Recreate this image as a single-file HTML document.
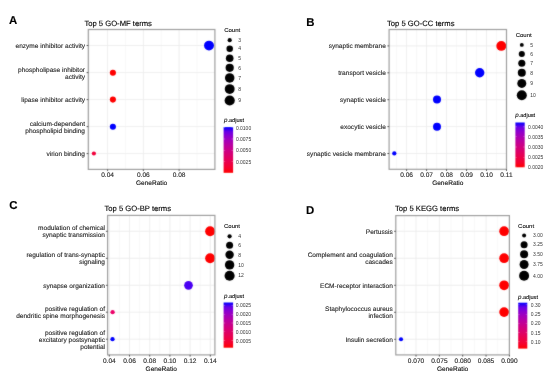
<!DOCTYPE html>
<html><head><meta charset="utf-8"><style>
html,body{margin:0;padding:0;background:#fff;}
body{width:550px;height:379px;overflow:hidden;}
svg{display:block;will-change:transform;}
text{font-family:"Liberation Sans", sans-serif;stroke-width:0.12px;paint-order:stroke;}
</style></head><body>
<svg width="550" height="379" viewBox="0 0 550 379">
<defs><linearGradient id="gA" x1="0" y1="0" x2="0" y2="1"><stop offset="0.00" stop-color="#0000FF"/><stop offset="0.10" stop-color="#6800E7"/><stop offset="0.20" stop-color="#8D00CE"/><stop offset="0.30" stop-color="#A600B7"/><stop offset="0.40" stop-color="#BA009F"/><stop offset="0.50" stop-color="#CA0088"/><stop offset="0.60" stop-color="#D70072"/><stop offset="0.70" stop-color="#E3005B"/><stop offset="0.80" stop-color="#ED0044"/><stop offset="0.90" stop-color="#F6002A"/><stop offset="1.00" stop-color="#FF0000"/></linearGradient><linearGradient id="gB" x1="0" y1="0" x2="0" y2="1"><stop offset="0.00" stop-color="#0000FF"/><stop offset="0.10" stop-color="#6800E7"/><stop offset="0.20" stop-color="#8D00CE"/><stop offset="0.30" stop-color="#A600B7"/><stop offset="0.40" stop-color="#BA009F"/><stop offset="0.50" stop-color="#CA0088"/><stop offset="0.60" stop-color="#D70072"/><stop offset="0.70" stop-color="#E3005B"/><stop offset="0.80" stop-color="#ED0044"/><stop offset="0.90" stop-color="#F6002A"/><stop offset="1.00" stop-color="#FF0000"/></linearGradient><linearGradient id="gC" x1="0" y1="0" x2="0" y2="1"><stop offset="0.00" stop-color="#0000FF"/><stop offset="0.10" stop-color="#6800E7"/><stop offset="0.20" stop-color="#8D00CE"/><stop offset="0.30" stop-color="#A600B7"/><stop offset="0.40" stop-color="#BA009F"/><stop offset="0.50" stop-color="#CA0088"/><stop offset="0.60" stop-color="#D70072"/><stop offset="0.70" stop-color="#E3005B"/><stop offset="0.80" stop-color="#ED0044"/><stop offset="0.90" stop-color="#F6002A"/><stop offset="1.00" stop-color="#FF0000"/></linearGradient><linearGradient id="gD" x1="0" y1="0" x2="0" y2="1"><stop offset="0.00" stop-color="#0000FF"/><stop offset="0.10" stop-color="#6800E7"/><stop offset="0.20" stop-color="#8D00CE"/><stop offset="0.30" stop-color="#A600B7"/><stop offset="0.40" stop-color="#BA009F"/><stop offset="0.50" stop-color="#CA0088"/><stop offset="0.60" stop-color="#D70072"/><stop offset="0.70" stop-color="#E3005B"/><stop offset="0.80" stop-color="#ED0044"/><stop offset="0.90" stop-color="#F6002A"/><stop offset="1.00" stop-color="#FF0000"/></linearGradient><filter id="soft" x="0" y="0" width="550" height="379" filterUnits="userSpaceOnUse" color-interpolation-filters="sRGB"><feConvolveMatrix order="3" kernelMatrix="1 2 1 2 24 2 1 2 1" edgeMode="duplicate"/></filter></defs>
<rect width="550" height="379" fill="#fff"/>
<g filter="url(#soft)">
<rect width="550" height="379" fill="#fff"/>
<rect x="88.3" y="29.5" width="126.6" height="139.9" fill="#fff"/>
<line x1="89.72" y1="29.5" x2="89.72" y2="169.4" stroke="#F4F4F4" stroke-width="0.6"/>
<line x1="125.47" y1="29.5" x2="125.47" y2="169.4" stroke="#F4F4F4" stroke-width="0.6"/>
<line x1="161.22" y1="29.5" x2="161.22" y2="169.4" stroke="#F4F4F4" stroke-width="0.6"/>
<line x1="196.97" y1="29.5" x2="196.97" y2="169.4" stroke="#F4F4F4" stroke-width="0.6"/>
<line x1="107.60" y1="29.5" x2="107.60" y2="169.4" stroke="#EBEBEB" stroke-width="0.8"/>
<line x1="143.35" y1="29.5" x2="143.35" y2="169.4" stroke="#EBEBEB" stroke-width="0.8"/>
<line x1="179.10" y1="29.5" x2="179.10" y2="169.4" stroke="#EBEBEB" stroke-width="0.8"/>
<line x1="88.3" y1="45.50" x2="214.9" y2="45.50" stroke="#EBEBEB" stroke-width="0.8"/>
<line x1="88.3" y1="72.60" x2="214.9" y2="72.60" stroke="#EBEBEB" stroke-width="0.8"/>
<line x1="88.3" y1="99.60" x2="214.9" y2="99.60" stroke="#EBEBEB" stroke-width="0.8"/>
<line x1="88.3" y1="126.60" x2="214.9" y2="126.60" stroke="#EBEBEB" stroke-width="0.8"/>
<line x1="88.3" y1="153.60" x2="214.9" y2="153.60" stroke="#EBEBEB" stroke-width="0.8"/>
<circle cx="209.0" cy="45.6" r="4.95" fill="#0000FF"/>
<circle cx="112.9" cy="72.7" r="3.05" fill="#FF0000"/>
<circle cx="112.9" cy="99.6" r="3.05" fill="#FF0000"/>
<circle cx="112.9" cy="126.7" r="3.05" fill="#0000FF"/>
<circle cx="93.9" cy="153.5" r="2.10" fill="#F2003A"/>
<rect x="88.3" y="29.5" width="126.6" height="139.9" fill="none" stroke="#A0A0A0" stroke-width="1.2"/>
<line x1="86.6" y1="45.50" x2="88.3" y2="45.50" stroke="#333" stroke-width="0.8"/>
<line x1="86.6" y1="72.60" x2="88.3" y2="72.60" stroke="#333" stroke-width="0.8"/>
<line x1="86.6" y1="99.60" x2="88.3" y2="99.60" stroke="#333" stroke-width="0.8"/>
<line x1="86.6" y1="126.60" x2="88.3" y2="126.60" stroke="#333" stroke-width="0.8"/>
<line x1="86.6" y1="153.60" x2="88.3" y2="153.60" stroke="#333" stroke-width="0.8"/>
<line x1="107.60" y1="169.4" x2="107.60" y2="171.1" stroke="#333" stroke-width="0.8"/>
<line x1="143.35" y1="169.4" x2="143.35" y2="171.1" stroke="#333" stroke-width="0.8"/>
<line x1="179.10" y1="169.4" x2="179.10" y2="171.1" stroke="#333" stroke-width="0.8"/>
<circle cx="229.7" cy="40.2" r="2.10" fill="#000"/>
<circle cx="229.7" cy="48.7" r="3.25" fill="#000"/>
<circle cx="229.7" cy="58.2" r="3.80" fill="#000"/>
<circle cx="229.7" cy="67.8" r="4.10" fill="#000"/>
<circle cx="229.7" cy="77.9" r="4.75" fill="#000"/>
<circle cx="229.7" cy="89.1" r="4.95" fill="#000"/>
<circle cx="229.7" cy="100.5" r="5.10" fill="#000"/>
<rect x="223.60" y="127.10" width="9.50" height="45.70" fill="url(#gA)"/>
<line x1="223.60" y1="127.5" x2="225.20" y2="127.5" stroke="#fff" stroke-width="0.4" opacity="0.7"/>
<line x1="231.50" y1="127.5" x2="233.10" y2="127.5" stroke="#fff" stroke-width="0.4" opacity="0.7"/>
<line x1="223.60" y1="139.0" x2="225.20" y2="139.0" stroke="#fff" stroke-width="0.4" opacity="0.7"/>
<line x1="231.50" y1="139.0" x2="233.10" y2="139.0" stroke="#fff" stroke-width="0.4" opacity="0.7"/>
<line x1="223.60" y1="150.3" x2="225.20" y2="150.3" stroke="#fff" stroke-width="0.4" opacity="0.7"/>
<line x1="231.50" y1="150.3" x2="233.10" y2="150.3" stroke="#fff" stroke-width="0.4" opacity="0.7"/>
<line x1="223.60" y1="161.7" x2="225.20" y2="161.7" stroke="#fff" stroke-width="0.4" opacity="0.7"/>
<line x1="231.50" y1="161.7" x2="233.10" y2="161.7" stroke="#fff" stroke-width="0.4" opacity="0.7"/>
<rect x="389.1" y="29.5" width="117.4" height="139.8" fill="#fff"/>
<line x1="396.61" y1="29.5" x2="396.61" y2="169.3" stroke="#F4F4F4" stroke-width="0.6"/>
<line x1="416.59" y1="29.5" x2="416.59" y2="169.3" stroke="#F4F4F4" stroke-width="0.6"/>
<line x1="436.57" y1="29.5" x2="436.57" y2="169.3" stroke="#F4F4F4" stroke-width="0.6"/>
<line x1="456.55" y1="29.5" x2="456.55" y2="169.3" stroke="#F4F4F4" stroke-width="0.6"/>
<line x1="476.53" y1="29.5" x2="476.53" y2="169.3" stroke="#F4F4F4" stroke-width="0.6"/>
<line x1="496.51" y1="29.5" x2="496.51" y2="169.3" stroke="#F4F4F4" stroke-width="0.6"/>
<line x1="406.60" y1="29.5" x2="406.60" y2="169.3" stroke="#EBEBEB" stroke-width="0.8"/>
<line x1="426.58" y1="29.5" x2="426.58" y2="169.3" stroke="#EBEBEB" stroke-width="0.8"/>
<line x1="446.56" y1="29.5" x2="446.56" y2="169.3" stroke="#EBEBEB" stroke-width="0.8"/>
<line x1="466.54" y1="29.5" x2="466.54" y2="169.3" stroke="#EBEBEB" stroke-width="0.8"/>
<line x1="486.52" y1="29.5" x2="486.52" y2="169.3" stroke="#EBEBEB" stroke-width="0.8"/>
<line x1="506.50" y1="29.5" x2="506.50" y2="169.3" stroke="#EBEBEB" stroke-width="0.8"/>
<line x1="389.1" y1="45.90" x2="506.5" y2="45.90" stroke="#EBEBEB" stroke-width="0.8"/>
<line x1="389.1" y1="72.80" x2="506.5" y2="72.80" stroke="#EBEBEB" stroke-width="0.8"/>
<line x1="389.1" y1="99.70" x2="506.5" y2="99.70" stroke="#EBEBEB" stroke-width="0.8"/>
<line x1="389.1" y1="126.60" x2="506.5" y2="126.60" stroke="#EBEBEB" stroke-width="0.8"/>
<line x1="389.1" y1="153.50" x2="506.5" y2="153.50" stroke="#EBEBEB" stroke-width="0.8"/>
<circle cx="501.3" cy="45.9" r="4.95" fill="#FF0000"/>
<circle cx="479.7" cy="72.7" r="4.70" fill="#0000FF"/>
<circle cx="437.0" cy="99.6" r="4.00" fill="#0000FF"/>
<circle cx="437.0" cy="126.7" r="4.00" fill="#0000FF"/>
<circle cx="394.3" cy="153.4" r="2.15" fill="#0000FF"/>
<rect x="389.1" y="29.5" width="117.4" height="139.8" fill="none" stroke="#A0A0A0" stroke-width="1.2"/>
<line x1="387.4" y1="45.90" x2="389.1" y2="45.90" stroke="#333" stroke-width="0.8"/>
<line x1="387.4" y1="72.80" x2="389.1" y2="72.80" stroke="#333" stroke-width="0.8"/>
<line x1="387.4" y1="99.70" x2="389.1" y2="99.70" stroke="#333" stroke-width="0.8"/>
<line x1="387.4" y1="126.60" x2="389.1" y2="126.60" stroke="#333" stroke-width="0.8"/>
<line x1="387.4" y1="153.50" x2="389.1" y2="153.50" stroke="#333" stroke-width="0.8"/>
<line x1="406.60" y1="169.3" x2="406.60" y2="171.0" stroke="#333" stroke-width="0.8"/>
<line x1="426.58" y1="169.3" x2="426.58" y2="171.0" stroke="#333" stroke-width="0.8"/>
<line x1="446.56" y1="169.3" x2="446.56" y2="171.0" stroke="#333" stroke-width="0.8"/>
<line x1="466.54" y1="169.3" x2="466.54" y2="171.0" stroke="#333" stroke-width="0.8"/>
<line x1="486.52" y1="169.3" x2="486.52" y2="171.0" stroke="#333" stroke-width="0.8"/>
<line x1="506.50" y1="169.3" x2="506.50" y2="171.0" stroke="#333" stroke-width="0.8"/>
<circle cx="521.8" cy="44.9" r="1.95" fill="#000"/>
<circle cx="521.8" cy="54.0" r="3.05" fill="#000"/>
<circle cx="521.8" cy="63.2" r="3.55" fill="#000"/>
<circle cx="521.8" cy="72.8" r="4.00" fill="#000"/>
<circle cx="521.8" cy="83.4" r="4.50" fill="#000"/>
<circle cx="521.8" cy="95.2" r="5.00" fill="#000"/>
<rect x="515.40" y="122.50" width="9.30" height="44.80" fill="url(#gB)"/>
<line x1="515.40" y1="126.8" x2="517.00" y2="126.8" stroke="#fff" stroke-width="0.4" opacity="0.7"/>
<line x1="523.10" y1="126.8" x2="524.70" y2="126.8" stroke="#fff" stroke-width="0.4" opacity="0.7"/>
<line x1="515.40" y1="136.8" x2="517.00" y2="136.8" stroke="#fff" stroke-width="0.4" opacity="0.7"/>
<line x1="523.10" y1="136.8" x2="524.70" y2="136.8" stroke="#fff" stroke-width="0.4" opacity="0.7"/>
<line x1="515.40" y1="147.0" x2="517.00" y2="147.0" stroke="#fff" stroke-width="0.4" opacity="0.7"/>
<line x1="523.10" y1="147.0" x2="524.70" y2="147.0" stroke="#fff" stroke-width="0.4" opacity="0.7"/>
<line x1="515.40" y1="157.2" x2="517.00" y2="157.2" stroke="#fff" stroke-width="0.4" opacity="0.7"/>
<line x1="523.10" y1="157.2" x2="524.70" y2="157.2" stroke="#fff" stroke-width="0.4" opacity="0.7"/>
<line x1="515.40" y1="167.0" x2="517.00" y2="167.0" stroke="#fff" stroke-width="0.4" opacity="0.7"/>
<line x1="523.10" y1="167.0" x2="524.70" y2="167.0" stroke="#fff" stroke-width="0.4" opacity="0.7"/>
<rect x="107.6" y="215.4" width="107.3" height="139.5" fill="#fff"/>
<line x1="119.40" y1="215.4" x2="119.40" y2="354.9" stroke="#F4F4F4" stroke-width="0.6"/>
<line x1="139.60" y1="215.4" x2="139.60" y2="354.9" stroke="#F4F4F4" stroke-width="0.6"/>
<line x1="159.80" y1="215.4" x2="159.80" y2="354.9" stroke="#F4F4F4" stroke-width="0.6"/>
<line x1="180.00" y1="215.4" x2="180.00" y2="354.9" stroke="#F4F4F4" stroke-width="0.6"/>
<line x1="200.20" y1="215.4" x2="200.20" y2="354.9" stroke="#F4F4F4" stroke-width="0.6"/>
<line x1="109.30" y1="215.4" x2="109.30" y2="354.9" stroke="#EBEBEB" stroke-width="0.8"/>
<line x1="129.50" y1="215.4" x2="129.50" y2="354.9" stroke="#EBEBEB" stroke-width="0.8"/>
<line x1="149.70" y1="215.4" x2="149.70" y2="354.9" stroke="#EBEBEB" stroke-width="0.8"/>
<line x1="169.90" y1="215.4" x2="169.90" y2="354.9" stroke="#EBEBEB" stroke-width="0.8"/>
<line x1="190.10" y1="215.4" x2="190.10" y2="354.9" stroke="#EBEBEB" stroke-width="0.8"/>
<line x1="210.30" y1="215.4" x2="210.30" y2="354.9" stroke="#EBEBEB" stroke-width="0.8"/>
<line x1="107.6" y1="231.30" x2="214.9" y2="231.30" stroke="#EBEBEB" stroke-width="0.8"/>
<line x1="107.6" y1="258.30" x2="214.9" y2="258.30" stroke="#EBEBEB" stroke-width="0.8"/>
<line x1="107.6" y1="285.30" x2="214.9" y2="285.30" stroke="#EBEBEB" stroke-width="0.8"/>
<line x1="107.6" y1="312.20" x2="214.9" y2="312.20" stroke="#EBEBEB" stroke-width="0.8"/>
<line x1="107.6" y1="339.20" x2="214.9" y2="339.20" stroke="#EBEBEB" stroke-width="0.8"/>
<circle cx="210.1" cy="231.2" r="4.95" fill="#FF0000"/>
<circle cx="210.1" cy="258.2" r="4.95" fill="#FF0000"/>
<circle cx="188.5" cy="285.3" r="4.35" fill="#4A00F3"/>
<circle cx="112.6" cy="312.2" r="2.15" fill="#EC0068"/>
<circle cx="112.5" cy="339.2" r="2.15" fill="#0000FF"/>
<rect x="107.6" y="215.4" width="107.3" height="139.5" fill="none" stroke="#A0A0A0" stroke-width="1.2"/>
<line x1="105.9" y1="231.30" x2="107.6" y2="231.30" stroke="#333" stroke-width="0.8"/>
<line x1="105.9" y1="258.30" x2="107.6" y2="258.30" stroke="#333" stroke-width="0.8"/>
<line x1="105.9" y1="285.30" x2="107.6" y2="285.30" stroke="#333" stroke-width="0.8"/>
<line x1="105.9" y1="312.20" x2="107.6" y2="312.20" stroke="#333" stroke-width="0.8"/>
<line x1="105.9" y1="339.20" x2="107.6" y2="339.20" stroke="#333" stroke-width="0.8"/>
<line x1="109.30" y1="354.9" x2="109.30" y2="356.6" stroke="#333" stroke-width="0.8"/>
<line x1="129.50" y1="354.9" x2="129.50" y2="356.6" stroke="#333" stroke-width="0.8"/>
<line x1="149.70" y1="354.9" x2="149.70" y2="356.6" stroke="#333" stroke-width="0.8"/>
<line x1="169.90" y1="354.9" x2="169.90" y2="356.6" stroke="#333" stroke-width="0.8"/>
<line x1="190.10" y1="354.9" x2="190.10" y2="356.6" stroke="#333" stroke-width="0.8"/>
<line x1="210.30" y1="354.9" x2="210.30" y2="356.6" stroke="#333" stroke-width="0.8"/>
<circle cx="229.6" cy="236.3" r="2.10" fill="#000"/>
<circle cx="229.6" cy="245.3" r="3.50" fill="#000"/>
<circle cx="229.6" cy="254.8" r="4.20" fill="#000"/>
<circle cx="229.6" cy="264.9" r="4.70" fill="#000"/>
<circle cx="229.6" cy="275.7" r="5.05" fill="#000"/>
<rect x="223.60" y="302.50" width="9.50" height="45.20" fill="url(#gC)"/>
<line x1="223.60" y1="305.3" x2="225.20" y2="305.3" stroke="#fff" stroke-width="0.4" opacity="0.7"/>
<line x1="231.50" y1="305.3" x2="233.10" y2="305.3" stroke="#fff" stroke-width="0.4" opacity="0.7"/>
<line x1="223.60" y1="314.2" x2="225.20" y2="314.2" stroke="#fff" stroke-width="0.4" opacity="0.7"/>
<line x1="231.50" y1="314.2" x2="233.10" y2="314.2" stroke="#fff" stroke-width="0.4" opacity="0.7"/>
<line x1="223.60" y1="323.0" x2="225.20" y2="323.0" stroke="#fff" stroke-width="0.4" opacity="0.7"/>
<line x1="231.50" y1="323.0" x2="233.10" y2="323.0" stroke="#fff" stroke-width="0.4" opacity="0.7"/>
<line x1="223.60" y1="331.8" x2="225.20" y2="331.8" stroke="#fff" stroke-width="0.4" opacity="0.7"/>
<line x1="231.50" y1="331.8" x2="233.10" y2="331.8" stroke="#fff" stroke-width="0.4" opacity="0.7"/>
<line x1="223.60" y1="340.5" x2="225.20" y2="340.5" stroke="#fff" stroke-width="0.4" opacity="0.7"/>
<line x1="231.50" y1="340.5" x2="233.10" y2="340.5" stroke="#fff" stroke-width="0.4" opacity="0.7"/>
<rect x="395.8" y="215.6" width="113.6" height="139.3" fill="#fff"/>
<line x1="404.32" y1="215.6" x2="404.32" y2="354.9" stroke="#F4F4F4" stroke-width="0.6"/>
<line x1="427.67" y1="215.6" x2="427.67" y2="354.9" stroke="#F4F4F4" stroke-width="0.6"/>
<line x1="451.02" y1="215.6" x2="451.02" y2="354.9" stroke="#F4F4F4" stroke-width="0.6"/>
<line x1="474.38" y1="215.6" x2="474.38" y2="354.9" stroke="#F4F4F4" stroke-width="0.6"/>
<line x1="497.72" y1="215.6" x2="497.72" y2="354.9" stroke="#F4F4F4" stroke-width="0.6"/>
<line x1="416.00" y1="215.6" x2="416.00" y2="354.9" stroke="#EBEBEB" stroke-width="0.8"/>
<line x1="439.35" y1="215.6" x2="439.35" y2="354.9" stroke="#EBEBEB" stroke-width="0.8"/>
<line x1="462.70" y1="215.6" x2="462.70" y2="354.9" stroke="#EBEBEB" stroke-width="0.8"/>
<line x1="486.05" y1="215.6" x2="486.05" y2="354.9" stroke="#EBEBEB" stroke-width="0.8"/>
<line x1="509.40" y1="215.6" x2="509.40" y2="354.9" stroke="#EBEBEB" stroke-width="0.8"/>
<line x1="395.8" y1="231.30" x2="509.4" y2="231.30" stroke="#EBEBEB" stroke-width="0.8"/>
<line x1="395.8" y1="258.30" x2="509.4" y2="258.30" stroke="#EBEBEB" stroke-width="0.8"/>
<line x1="395.8" y1="285.30" x2="509.4" y2="285.30" stroke="#EBEBEB" stroke-width="0.8"/>
<line x1="395.8" y1="312.30" x2="509.4" y2="312.30" stroke="#EBEBEB" stroke-width="0.8"/>
<line x1="395.8" y1="339.30" x2="509.4" y2="339.30" stroke="#EBEBEB" stroke-width="0.8"/>
<circle cx="504.1" cy="231.2" r="4.85" fill="#FF0000"/>
<circle cx="504.1" cy="258.2" r="4.85" fill="#FF0000"/>
<circle cx="504.1" cy="285.3" r="4.85" fill="#FF0000"/>
<circle cx="504.1" cy="312.1" r="4.85" fill="#FF0000"/>
<circle cx="401.0" cy="339.3" r="2.05" fill="#0000FF"/>
<rect x="395.8" y="215.6" width="113.6" height="139.3" fill="none" stroke="#A0A0A0" stroke-width="1.2"/>
<line x1="394.1" y1="231.30" x2="395.8" y2="231.30" stroke="#333" stroke-width="0.8"/>
<line x1="394.1" y1="258.30" x2="395.8" y2="258.30" stroke="#333" stroke-width="0.8"/>
<line x1="394.1" y1="285.30" x2="395.8" y2="285.30" stroke="#333" stroke-width="0.8"/>
<line x1="394.1" y1="312.30" x2="395.8" y2="312.30" stroke="#333" stroke-width="0.8"/>
<line x1="394.1" y1="339.30" x2="395.8" y2="339.30" stroke="#333" stroke-width="0.8"/>
<line x1="416.00" y1="354.9" x2="416.00" y2="356.6" stroke="#333" stroke-width="0.8"/>
<line x1="439.35" y1="354.9" x2="439.35" y2="356.6" stroke="#333" stroke-width="0.8"/>
<line x1="462.70" y1="354.9" x2="462.70" y2="356.6" stroke="#333" stroke-width="0.8"/>
<line x1="486.05" y1="354.9" x2="486.05" y2="356.6" stroke="#333" stroke-width="0.8"/>
<line x1="509.40" y1="354.9" x2="509.40" y2="356.6" stroke="#333" stroke-width="0.8"/>
<circle cx="524.1" cy="235.4" r="2.00" fill="#000"/>
<circle cx="524.1" cy="244.7" r="3.50" fill="#000"/>
<circle cx="524.1" cy="254.2" r="4.00" fill="#000"/>
<circle cx="524.1" cy="264.5" r="4.50" fill="#000"/>
<circle cx="524.1" cy="275.8" r="5.00" fill="#000"/>
<rect x="518.20" y="302.70" width="9.10" height="45.90" fill="url(#gD)"/>
<line x1="518.20" y1="304.8" x2="519.80" y2="304.8" stroke="#fff" stroke-width="0.4" opacity="0.7"/>
<line x1="525.70" y1="304.8" x2="527.30" y2="304.8" stroke="#fff" stroke-width="0.4" opacity="0.7"/>
<line x1="518.20" y1="314.2" x2="519.80" y2="314.2" stroke="#fff" stroke-width="0.4" opacity="0.7"/>
<line x1="525.70" y1="314.2" x2="527.30" y2="314.2" stroke="#fff" stroke-width="0.4" opacity="0.7"/>
<line x1="518.20" y1="323.2" x2="519.80" y2="323.2" stroke="#fff" stroke-width="0.4" opacity="0.7"/>
<line x1="525.70" y1="323.2" x2="527.30" y2="323.2" stroke="#fff" stroke-width="0.4" opacity="0.7"/>
<line x1="518.20" y1="332.6" x2="519.80" y2="332.6" stroke="#fff" stroke-width="0.4" opacity="0.7"/>
<line x1="525.70" y1="332.6" x2="527.30" y2="332.6" stroke="#fff" stroke-width="0.4" opacity="0.7"/>
<line x1="518.20" y1="341.8" x2="519.80" y2="341.8" stroke="#fff" stroke-width="0.4" opacity="0.7"/>
<line x1="525.70" y1="341.8" x2="527.30" y2="341.8" stroke="#fff" stroke-width="0.4" opacity="0.7"/>
</g>
<g>
<text x="9.00" y="24.20" font-size="11.4" font-weight="bold" text-rendering="geometricPrecision" fill="#000" stroke="#000">A</text>
<text x="84.40" y="25.80" font-size="7.65" text-rendering="geometricPrecision" fill="#000" stroke="#000" stroke-width="0.06">Top 5 GO-MF terms</text>
<text x="85.00" y="48.05" font-size="6.55" text-anchor="end" text-rendering="geometricPrecision" fill="#262626" stroke="#262626">enzyme inhibitor activity</text>
<text x="85.00" y="71.55" font-size="6.55" text-anchor="end" text-rendering="geometricPrecision" fill="#262626" stroke="#262626">phospholipase inhibitor</text>
<text x="85.00" y="78.75" font-size="6.55" text-anchor="end" text-rendering="geometricPrecision" fill="#262626" stroke="#262626">activity</text>
<text x="85.00" y="102.15" font-size="6.55" text-anchor="end" text-rendering="geometricPrecision" fill="#262626" stroke="#262626">lipase inhibitor activity</text>
<text x="85.00" y="125.55" font-size="6.55" text-anchor="end" text-rendering="geometricPrecision" fill="#262626" stroke="#262626">calcium-dependent</text>
<text x="85.00" y="132.75" font-size="6.55" text-anchor="end" text-rendering="geometricPrecision" fill="#262626" stroke="#262626">phospholipid binding</text>
<text x="85.00" y="156.15" font-size="6.55" text-anchor="end" text-rendering="geometricPrecision" fill="#262626" stroke="#262626">virion binding</text>
<text x="107.60" y="177.00" font-size="6.55" text-anchor="middle" text-rendering="geometricPrecision" fill="#262626" stroke="#262626">0.04</text>
<text x="143.35" y="177.00" font-size="6.55" text-anchor="middle" text-rendering="geometricPrecision" fill="#262626" stroke="#262626">0.06</text>
<text x="179.10" y="177.00" font-size="6.55" text-anchor="middle" text-rendering="geometricPrecision" fill="#262626" stroke="#262626">0.08</text>
<text x="151.60" y="184.80" font-size="6.55" text-anchor="middle" text-rendering="geometricPrecision" fill="#111" stroke="#111" stroke-width="0.04">GeneRatio</text>
<text x="224.20" y="31.90" font-size="6.0" fill="#111" stroke="#111" stroke-width="0.03">Count</text>
<text x="238.30" y="41.99" font-size="5.0" fill="#383838">3</text>
<text x="238.30" y="50.49" font-size="5.0" fill="#383838">4</text>
<text x="238.30" y="59.99" font-size="5.0" fill="#383838">5</text>
<text x="238.30" y="69.59" font-size="5.0" fill="#383838">6</text>
<text x="238.30" y="79.69" font-size="5.0" fill="#383838">7</text>
<text x="238.30" y="90.89" font-size="5.0" fill="#383838">8</text>
<text x="238.30" y="102.29" font-size="5.0" fill="#383838">9</text>
<text x="224.00" y="122.30" font-size="5.6" text-rendering="geometricPrecision" fill="#111" stroke="#111" stroke-width="0.04"><tspan font-style="italic" font-size="6.2">p</tspan>.adjust</text>
<text x="235.90" y="129.69" font-size="5.0" fill="#383838">0.0100</text>
<text x="235.90" y="141.19" font-size="5.0" fill="#383838">0.0075</text>
<text x="235.90" y="152.49" font-size="5.0" fill="#383838">0.0050</text>
<text x="235.90" y="163.89" font-size="5.0" fill="#383838">0.0025</text>
<text x="306.20" y="25.80" font-size="11.4" font-weight="bold" text-rendering="geometricPrecision" fill="#000" stroke="#000">B</text>
<text x="387.00" y="25.60" font-size="7.65" text-rendering="geometricPrecision" fill="#000" stroke="#000" stroke-width="0.06">Top 5 GO-CC terms</text>
<text x="385.80" y="48.45" font-size="6.55" text-anchor="end" text-rendering="geometricPrecision" fill="#262626" stroke="#262626">synaptic membrane</text>
<text x="385.80" y="75.35" font-size="6.55" text-anchor="end" text-rendering="geometricPrecision" fill="#262626" stroke="#262626">transport vesicle</text>
<text x="385.80" y="102.25" font-size="6.55" text-anchor="end" text-rendering="geometricPrecision" fill="#262626" stroke="#262626">synaptic vesicle</text>
<text x="385.80" y="129.15" font-size="6.55" text-anchor="end" text-rendering="geometricPrecision" fill="#262626" stroke="#262626">exocytic vesicle</text>
<text x="385.80" y="156.05" font-size="6.55" text-anchor="end" text-rendering="geometricPrecision" fill="#262626" stroke="#262626">synaptic vesicle membrane</text>
<text x="406.60" y="177.00" font-size="6.55" text-anchor="middle" text-rendering="geometricPrecision" fill="#262626" stroke="#262626">0.06</text>
<text x="426.58" y="177.00" font-size="6.55" text-anchor="middle" text-rendering="geometricPrecision" fill="#262626" stroke="#262626">0.07</text>
<text x="446.56" y="177.00" font-size="6.55" text-anchor="middle" text-rendering="geometricPrecision" fill="#262626" stroke="#262626">0.08</text>
<text x="466.54" y="177.00" font-size="6.55" text-anchor="middle" text-rendering="geometricPrecision" fill="#262626" stroke="#262626">0.09</text>
<text x="486.52" y="177.00" font-size="6.55" text-anchor="middle" text-rendering="geometricPrecision" fill="#262626" stroke="#262626">0.10</text>
<text x="506.50" y="177.00" font-size="6.55" text-anchor="middle" text-rendering="geometricPrecision" fill="#262626" stroke="#262626">0.11</text>
<text x="447.80" y="184.70" font-size="6.55" text-anchor="middle" text-rendering="geometricPrecision" fill="#111" stroke="#111" stroke-width="0.04">GeneRatio</text>
<text x="515.70" y="36.90" font-size="6.0" fill="#111" stroke="#111" stroke-width="0.03">Count</text>
<text x="530.30" y="46.69" font-size="5.0" fill="#383838">5</text>
<text x="530.30" y="55.79" font-size="5.0" fill="#383838">6</text>
<text x="530.30" y="64.99" font-size="5.0" fill="#383838">7</text>
<text x="530.30" y="74.59" font-size="5.0" fill="#383838">8</text>
<text x="530.30" y="85.19" font-size="5.0" fill="#383838">9</text>
<text x="530.30" y="96.99" font-size="5.0" fill="#383838">10</text>
<text x="515.20" y="117.30" font-size="5.6" text-rendering="geometricPrecision" fill="#111" stroke="#111" stroke-width="0.04"><tspan font-style="italic" font-size="6.2">p</tspan>.adjust</text>
<text x="528.00" y="128.99" font-size="5.0" fill="#383838">0.0040</text>
<text x="528.00" y="138.99" font-size="5.0" fill="#383838">0.0035</text>
<text x="528.00" y="149.19" font-size="5.0" fill="#383838">0.0030</text>
<text x="528.00" y="159.39" font-size="5.0" fill="#383838">0.0025</text>
<text x="528.00" y="169.19" font-size="5.0" fill="#383838">0.0020</text>
<text x="9.30" y="209.40" font-size="11.4" font-weight="bold" text-rendering="geometricPrecision" fill="#000" stroke="#000">C</text>
<text x="104.50" y="211.40" font-size="7.65" text-rendering="geometricPrecision" fill="#000" stroke="#000" stroke-width="0.06">Top 5 GO-BP terms</text>
<text x="105.00" y="230.25" font-size="6.55" text-anchor="end" text-rendering="geometricPrecision" fill="#262626" stroke="#262626">modulation of chemical</text>
<text x="105.00" y="237.45" font-size="6.55" text-anchor="end" text-rendering="geometricPrecision" fill="#262626" stroke="#262626">synaptic transmission</text>
<text x="105.00" y="257.25" font-size="6.55" text-anchor="end" text-rendering="geometricPrecision" fill="#262626" stroke="#262626">regulation of trans-synaptic</text>
<text x="105.00" y="264.45" font-size="6.55" text-anchor="end" text-rendering="geometricPrecision" fill="#262626" stroke="#262626">signaling</text>
<text x="105.00" y="287.85" font-size="6.55" text-anchor="end" text-rendering="geometricPrecision" fill="#262626" stroke="#262626">synapse organization</text>
<text x="105.00" y="311.15" font-size="6.55" text-anchor="end" text-rendering="geometricPrecision" fill="#262626" stroke="#262626">positive regulation of</text>
<text x="105.00" y="318.35" font-size="6.55" text-anchor="end" text-rendering="geometricPrecision" fill="#262626" stroke="#262626">dendritic spine morphogenesis</text>
<text x="105.00" y="334.55" font-size="6.55" text-anchor="end" text-rendering="geometricPrecision" fill="#262626" stroke="#262626">positive regulation of</text>
<text x="105.00" y="341.75" font-size="6.55" text-anchor="end" text-rendering="geometricPrecision" fill="#262626" stroke="#262626">excitatory postsynaptic</text>
<text x="105.00" y="348.95" font-size="6.55" text-anchor="end" text-rendering="geometricPrecision" fill="#262626" stroke="#262626">potential</text>
<text x="109.30" y="363.10" font-size="6.55" text-anchor="middle" text-rendering="geometricPrecision" fill="#262626" stroke="#262626">0.04</text>
<text x="129.50" y="363.10" font-size="6.55" text-anchor="middle" text-rendering="geometricPrecision" fill="#262626" stroke="#262626">0.06</text>
<text x="149.70" y="363.10" font-size="6.55" text-anchor="middle" text-rendering="geometricPrecision" fill="#262626" stroke="#262626">0.08</text>
<text x="169.90" y="363.10" font-size="6.55" text-anchor="middle" text-rendering="geometricPrecision" fill="#262626" stroke="#262626">0.10</text>
<text x="190.10" y="363.10" font-size="6.55" text-anchor="middle" text-rendering="geometricPrecision" fill="#262626" stroke="#262626">0.12</text>
<text x="210.30" y="363.10" font-size="6.55" text-anchor="middle" text-rendering="geometricPrecision" fill="#262626" stroke="#262626">0.14</text>
<text x="161.25" y="370.80" font-size="6.55" text-anchor="middle" text-rendering="geometricPrecision" fill="#111" stroke="#111" stroke-width="0.04">GeneRatio</text>
<text x="224.00" y="228.30" font-size="6.0" fill="#111" stroke="#111" stroke-width="0.03">Count</text>
<text x="238.20" y="238.09" font-size="5.0" fill="#383838">4</text>
<text x="238.20" y="247.09" font-size="5.0" fill="#383838">6</text>
<text x="238.20" y="256.59" font-size="5.0" fill="#383838">8</text>
<text x="238.20" y="266.69" font-size="5.0" fill="#383838">10</text>
<text x="238.20" y="277.49" font-size="5.0" fill="#383838">12</text>
<text x="224.00" y="297.50" font-size="5.6" text-rendering="geometricPrecision" fill="#111" stroke="#111" stroke-width="0.04"><tspan font-style="italic" font-size="6.2">p</tspan>.adjust</text>
<text x="235.80" y="307.49" font-size="5.0" fill="#383838">0.0025</text>
<text x="235.80" y="316.39" font-size="5.0" fill="#383838">0.0020</text>
<text x="235.80" y="325.19" font-size="5.0" fill="#383838">0.0015</text>
<text x="235.80" y="333.99" font-size="5.0" fill="#383838">0.0010</text>
<text x="235.80" y="342.69" font-size="5.0" fill="#383838">0.0005</text>
<text x="306.00" y="214.20" font-size="11.4" font-weight="bold" text-rendering="geometricPrecision" fill="#000" stroke="#000">D</text>
<text x="395.00" y="210.90" font-size="7.65" text-rendering="geometricPrecision" fill="#000" stroke="#000" stroke-width="0.06">Top 5 KEGG terms</text>
<text x="392.80" y="233.85" font-size="6.55" text-anchor="end" text-rendering="geometricPrecision" fill="#262626" stroke="#262626">Pertussis</text>
<text x="392.80" y="257.25" font-size="6.55" text-anchor="end" text-rendering="geometricPrecision" fill="#262626" stroke="#262626">Complement and coagulation</text>
<text x="392.80" y="264.45" font-size="6.55" text-anchor="end" text-rendering="geometricPrecision" fill="#262626" stroke="#262626">cascades</text>
<text x="392.80" y="287.85" font-size="6.55" text-anchor="end" text-rendering="geometricPrecision" fill="#262626" stroke="#262626">ECM-receptor interaction</text>
<text x="392.80" y="311.25" font-size="6.55" text-anchor="end" text-rendering="geometricPrecision" fill="#262626" stroke="#262626">Staphylococcus aureus</text>
<text x="392.80" y="318.45" font-size="6.55" text-anchor="end" text-rendering="geometricPrecision" fill="#262626" stroke="#262626">infection</text>
<text x="392.80" y="341.85" font-size="6.55" text-anchor="end" text-rendering="geometricPrecision" fill="#262626" stroke="#262626">Insulin secretion</text>
<text x="416.00" y="363.10" font-size="6.55" text-anchor="middle" text-rendering="geometricPrecision" fill="#262626" stroke="#262626">0.070</text>
<text x="439.35" y="363.10" font-size="6.55" text-anchor="middle" text-rendering="geometricPrecision" fill="#262626" stroke="#262626">0.075</text>
<text x="462.70" y="363.10" font-size="6.55" text-anchor="middle" text-rendering="geometricPrecision" fill="#262626" stroke="#262626">0.080</text>
<text x="486.05" y="363.10" font-size="6.55" text-anchor="middle" text-rendering="geometricPrecision" fill="#262626" stroke="#262626">0.085</text>
<text x="509.40" y="363.10" font-size="6.55" text-anchor="middle" text-rendering="geometricPrecision" fill="#262626" stroke="#262626">0.090</text>
<text x="452.60" y="370.70" font-size="6.55" text-anchor="middle" text-rendering="geometricPrecision" fill="#111" stroke="#111" stroke-width="0.04">GeneRatio</text>
<text x="518.10" y="227.70" font-size="6.0" fill="#111" stroke="#111" stroke-width="0.03">Count</text>
<text x="533.00" y="237.19" font-size="5.0" fill="#383838">3.00</text>
<text x="533.00" y="246.49" font-size="5.0" fill="#383838">3.25</text>
<text x="533.00" y="255.99" font-size="5.0" fill="#383838">3.50</text>
<text x="533.00" y="266.29" font-size="5.0" fill="#383838">3.75</text>
<text x="533.00" y="277.59" font-size="5.0" fill="#383838">4.00</text>
<text x="518.00" y="298.70" font-size="5.6" text-rendering="geometricPrecision" fill="#111" stroke="#111" stroke-width="0.04"><tspan font-style="italic" font-size="6.2">p</tspan>.adjust</text>
<text x="530.80" y="306.99" font-size="5.0" fill="#383838">0.30</text>
<text x="530.80" y="316.39" font-size="5.0" fill="#383838">0.25</text>
<text x="530.80" y="325.39" font-size="5.0" fill="#383838">0.20</text>
<text x="530.80" y="334.79" font-size="5.0" fill="#383838">0.15</text>
<text x="530.80" y="343.99" font-size="5.0" fill="#383838">0.10</text>
</g>
</svg>
</body></html>
